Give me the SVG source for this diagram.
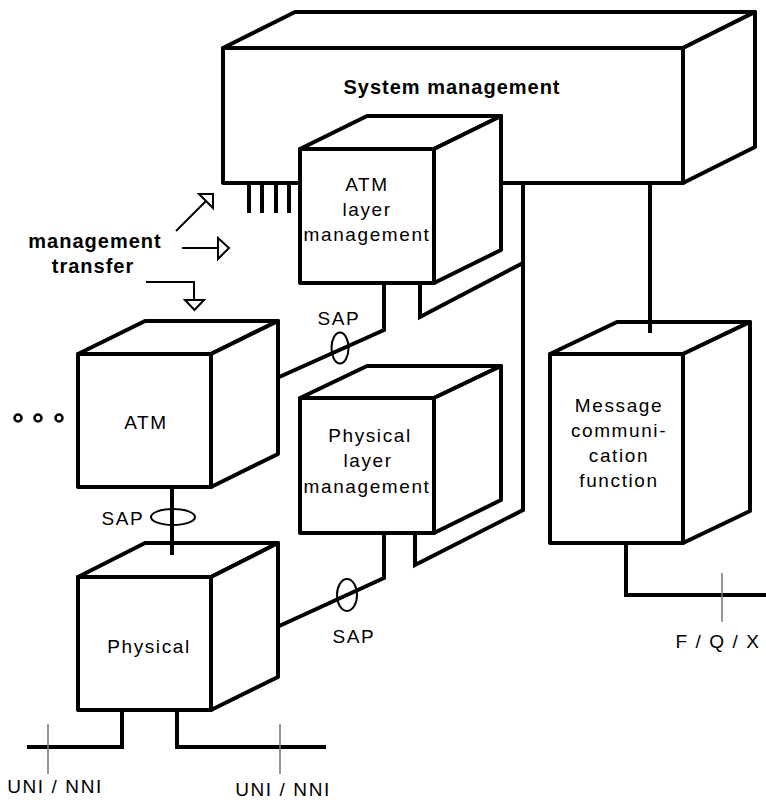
<svg xmlns="http://www.w3.org/2000/svg" width="766" height="800" viewBox="0 0 766 800">
  <style>
    .face { fill: #ffffff; stroke: #000000; stroke-width: 4; stroke-linejoin: round; }
    .wire { fill: none; stroke: #000000; stroke-width: 4; stroke-linejoin: miter; }
    .sap { fill: none; stroke: #000000; stroke-width: 2; }
    .tick { fill: none; stroke: #777777; stroke-width: 1.5; }
    .arrow { fill: none; stroke: #000000; stroke-width: 2; }
    .head { fill: #ffffff; stroke: #000000; stroke-width: 2; stroke-linejoin: miter; }
    .lbl { font-family: "Liberation Sans", Arial, sans-serif; font-size: 19px; letter-spacing: 1.6px; fill: #000000; text-anchor: middle; }
    .bold { font-family: "Liberation Sans", Arial, sans-serif; font-size: 20px; font-weight: bold; letter-spacing: 1px; fill: #000000; text-anchor: middle; }
  </style>

  <!-- System management block -->
  <g id="system-management">
    <rect class="face" x="223" y="48" width="460" height="135"/>
    <polygon class="face" points="223,48 295,12 755,12 683,48"/>
    <polygon class="face" points="683,48 755,12 755,147 683,183"/>
    <text class="bold" x="452" y="94">System management</text>
    <!-- interface comb under the block -->
    <g class="wire">
      <line x1="249" y1="183" x2="249" y2="213"/>
      <line x1="262" y1="183" x2="262" y2="213"/>
      <line x1="276" y1="183" x2="276" y2="213"/>
      <line x1="289" y1="183" x2="289" y2="213"/>
    </g>
  </g>

  <!-- ATM layer management -->
  <g id="atm-layer-management">
    <rect class="face" x="300" y="149" width="134" height="134"/>
    <polygon class="face" points="300,149 367,116 501,116 434,149"/>
    <polygon class="face" points="434,149 501,116 501,250 434,283"/>
    <text class="lbl" x="367" y="191">ATM</text>
    <text class="lbl" x="367" y="216">layer</text>
    <text class="lbl" x="367" y="241">management</text>
  </g>

  <!-- Physical layer management -->
  <g id="physical-layer-management">
    <rect class="face" x="300" y="398" width="134" height="135"/>
    <polygon class="face" points="300,398 367,366 501,366 434,398"/>
    <polygon class="face" points="434,398 501,366 501,500 434,533"/>
    <text class="lbl" x="370" y="442">Physical</text>
    <text class="lbl" x="368" y="467">layer</text>
    <text class="lbl" x="367" y="493">management</text>
  </g>

  <!-- Message communication function -->
  <g id="message-communication">
    <rect class="face" x="550" y="354" width="133" height="189"/>
    <polygon class="face" points="550,354 617,322 750,322 683,354"/>
    <polygon class="face" points="683,354 750,322 750,511 683,543"/>
    <text class="lbl" x="619" y="412">Message</text>
    <text class="lbl" x="619" y="437">communi-</text>
    <text class="lbl" x="619" y="462">cation</text>
    <text class="lbl" x="619" y="487">function</text>
  </g>

  <!-- ATM layer -->
  <g id="atm">
    <rect class="face" x="78" y="354" width="133" height="133"/>
    <polygon class="face" points="78,354 145,321 278,321 211,354"/>
    <polygon class="face" points="211,354 278,321 278,454 211,487"/>
    <text class="lbl" x="146" y="429">ATM</text>
  </g>

  <!-- Physical layer -->
  <g id="physical">
    <rect class="face" x="78" y="577" width="133" height="133"/>
    <polygon class="face" points="78,577 145,543 278,543 211,577"/>
    <polygon class="face" points="211,577 278,543 278,677 211,710"/>
    <text class="lbl" x="149" y="653">Physical</text>
  </g>

  <!-- Further layers -->
  <g id="more-layers" fill="none" stroke="#000000" stroke-width="2.5">
    <circle cx="18" cy="418" r="3.5"/>
    <circle cx="38" cy="418" r="3.5"/>
    <circle cx="59" cy="418" r="3.5"/>
  </g>

  <!-- Management transfer -->
  <g id="management-transfer">
    <text class="bold" x="95" y="248">management</text>
    <text class="bold" x="93" y="273">transfer</text>
    <line class="arrow" x1="176" y1="231" x2="206" y2="201"/>
    <polygon class="head" points="213,194 199,194 213,208"/>
    <line class="arrow" x1="182" y1="248" x2="218" y2="248" stroke-width="3"/>
    <polygon class="head" points="218,238 229,248 218,259"/>
    <polyline class="arrow" points="146,282 194,282 194,300"/>
    <polygon class="head" points="185,300 204,300 194.5,310"/>
  </g>

  <!-- Connectors -->
  <g id="connectors">
    <!-- system management to the management blocks -->
    <polyline class="wire" points="523,183 523,510 415,565 415,533"/>
    <polyline class="wire" points="523,263 420,317 420,283"/>
    <line class="wire" x1="650" y1="183" x2="650" y2="333"/>
    <!-- SAP between ATM layer management and ATM -->
    <polyline class="wire" points="384,283 384,330 277,378"/>
    <ellipse class="sap" cx="340" cy="348" rx="8.5" ry="15.5"/>
    <text class="lbl" x="339" y="325">SAP</text>
    <!-- SAP between physical layer management and physical -->
    <polyline class="wire" points="384,533 384,578 277,627"/>
    <ellipse class="sap" cx="347" cy="595" rx="10" ry="16"/>
    <text class="lbl" x="354" y="643">SAP</text>
    <!-- SAP between ATM and physical -->
    <line class="wire" x1="172" y1="487" x2="172" y2="555"/>
    <ellipse class="sap" cx="173" cy="517" rx="22" ry="8"/>
    <text class="lbl" x="123" y="525">SAP</text>
    <!-- physical interfaces -->
    <polyline class="wire" points="122,710 122,747 27,747"/>
    <line class="tick" x1="48" y1="724" x2="48" y2="774"/>
    <text class="lbl" x="55" y="793">UNI / NNI</text>
    <polyline class="wire" points="177,710 177,747 326,747"/>
    <line class="tick" x1="280" y1="724" x2="280" y2="774"/>
    <text class="lbl" x="283" y="796">UNI / NNI</text>
    <!-- management interface -->
    <polyline class="wire" points="626,541 626,595 766,595"/>
    <line class="tick" x1="722" y1="573" x2="722" y2="622"/>
    <text class="lbl" x="718" y="648">F / Q / X</text>
  </g>
</svg>
